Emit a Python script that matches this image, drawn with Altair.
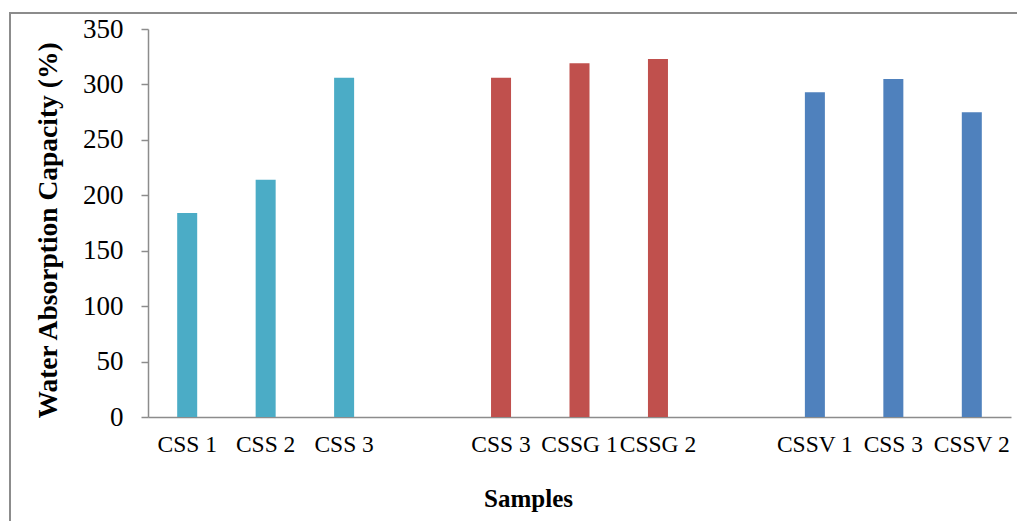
import altair as alt
import pandas as pd

slots = ["s0", "s1", "s2", "s3", "s4", "s5", "s6", "s7", "s8", "s9", "s10"]
labels = ["CSS 1", "CSS 2", "CSS 3", "", "CSS 3", "CSSG 1", "CSSG 2", "", "CSSV 1", "CSS 3", "CSSV 2"]
values = [184, 214, 306, None, 306, 319, 323, None, 293, 305, 275]
groups = ["CSS", "CSS", "CSS", None, "CSSG", "CSSG", "CSSG", None, "CSSV", "CSSV", "CSSV"]
group_names = ["CSS", "CSSG", "CSSV"]
group_colors = ["#4BACC6", "#C0504D", "#4F81BD"]

df = pd.DataFrame({"slot": slots, "label": labels, "value": values, "group": groups})
bars_df = df.dropna(subset=["value"])

label_map = "{" + ",".join(f"'{s}':'{l}'" for s, l in zip(slots, labels)) + "}"

FONT = "Liberation Serif"

x_enc = alt.X(
    "slot:N",
    sort=slots,
    scale=alt.Scale(domain=slots, paddingInner=0.745, paddingOuter=0.372),
    axis=alt.Axis(
        title="Samples",
        labelExpr=f"{label_map}[datum.value]",
        labelAngle=0,
        labelFont=FONT,
        labelFontSize=23.5,
        labelColor="black",
        labelPadding=15,
        labelOverlap=False,
        ticks=False,
        domainColor="#8c8c8c",
        domainWidth=1.5,
        titleFont=FONT,
        titleFontSize=25,
        titleFontWeight="bold",
        titleColor="black",
        titleX=380,
        titleY=81,
        titleBaseline="middle",
        titleAlign="center",
    ),
)

y_enc = alt.Y(
    "value:Q",
    scale=alt.Scale(domain=[0, 350], nice=False),
    axis=alt.Axis(
        title="Water Absorption Capacity (%)",
        values=[0, 50, 100, 150, 200, 250, 300, 350],
        grid=False,
        labelFont=FONT,
        labelFontSize=27,
        labelColor="black",
        labelPadding=18,
        tickSize=7,
        tickColor="#8c8c8c",
        tickWidth=1.5,
        domainColor="#8c8c8c",
        domainWidth=1.5,
        titleFont=FONT,
        titleFontSize=27.5,
        titleFontWeight="bold",
        titleColor="black",
        titleX=-100,
        titleY=201,
        titleAngle=-90,
        titleAlign="center",
        titleBaseline="middle",
    ),
)

bars = alt.Chart(bars_df).mark_bar().encode(
    x=x_enc,
    y=y_enc,
    color=alt.Color(
        "group:N",
        scale=alt.Scale(domain=group_names, range=group_colors),
        legend=None,
    ),
)

frame = alt.Chart(bars_df).mark_rect(
    fill=None, stroke="#8c8c8c", strokeWidth=1.5, clip=False
).encode(
    x=alt.value(-138),
    x2=alt.value(900),
    y=alt.value(-16),
    y2=alt.value(560),
)

chart = alt.layer(frame, bars).properties(
    width=863,
    height=388,
    autosize=alt.AutoSizeParams(type="none"),
    padding={"left": 148, "top": 29, "right": 6, "bottom": 104},
    background="white",
).configure_view(stroke=None)

chart.save("out.html", embed_options={"renderer": "svg", "actions": False})
